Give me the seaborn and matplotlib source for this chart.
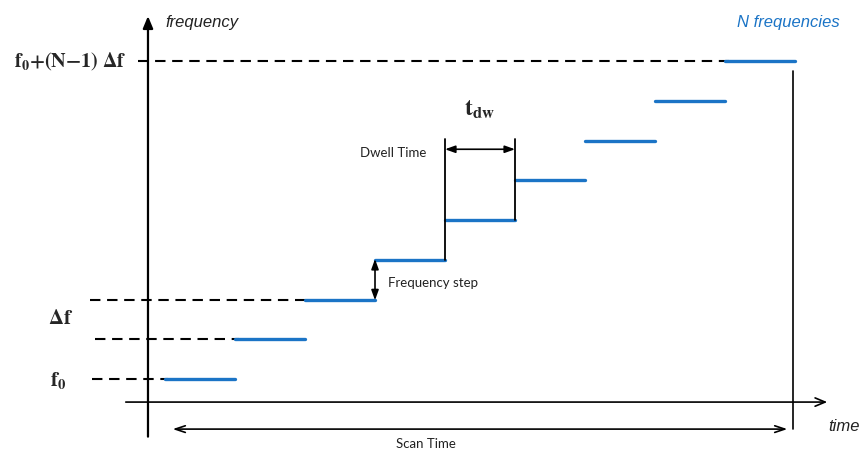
import numpy as np
import pandas as pd
import matplotlib
matplotlib.use("Agg")
import matplotlib.pyplot as plt
import seaborn as sns

# step diagram data: time in dwell-time units, frequency in delta-f units
step_index = [0, 1, 2, 3, 4, 5, 6, 7, 8]
dwell_time = 1.0
freq_level = [0, 1, 2, 3, 4, 5, 6, 7, 8]
labelled_levels = [0, 1, 2, 8]
level_labels = [r"$\mathbf{f_0}$", "", "", r"$\mathbf{f_0{+}(N{-}1)\ \Delta f}$"]
label_pos = [-1.53, None, None, -1.35]
dash_start = [-1.04, -1.0, -1.07, -0.39]

BLUE = "#1b74c6"

sns.set_theme(style="white")
plt.rcParams["mathtext.fontset"] = "stix"
plt.rcParams["font.family"] = ["Liberation Sans", "DejaVu Sans"]

fig = plt.figure(figsize=(8.63, 4.52), dpi=100)
ax = fig.add_axes([0, 0, 1, 1])

# blue frequency steps
segs = pd.DataFrame({
    "seg": np.repeat(step_index, 2),
    "t": np.ravel([[i * dwell_time, (i + 1) * dwell_time] for i in step_index]),
    "f": np.repeat(freq_level, 2),
})
sns.lineplot(data=segs, x="t", y="f", units="seg", estimator=None,
             color=BLUE, lw=2.4, ax=ax, legend=False)

# dashed level guides + labels
for lvl, lab, x0, xl in zip(labelled_levels, level_labels, dash_start, label_pos):
    ax.plot([x0, lvl * dwell_time + 0.05], [lvl, lvl], color="black", lw=1.5,
            ls=(0, (5, 3.2)), zorder=1)
    if lab:
        ax.text(xl, lvl, lab, fontsize=15 if lvl == 0 else 14.5,
                ha="center", va="center")
ax.text(-1.49, 1.56, r"$\mathbf{\Delta f}$", fontsize=15, ha="center", va="center")

n = len(step_index)
t_end = n * dwell_time
t_axis, f_axis = -0.243, -0.58

# axes
ax.annotate("", xy=(t_axis, 9.2), xytext=(t_axis, -1.52),
            arrowprops=dict(arrowstyle="-|>,head_length=0.6,head_width=0.25",
                            color="black", lw=1.6))
ax.annotate("", xy=(9.5, f_axis), xytext=(-0.6, f_axis),
            arrowprops=dict(arrowstyle="->,head_length=0.6,head_width=0.25",
                            color="black", lw=1.2))
ax.text(0.0, 9.0, "frequency", fontsize=12, style="italic", color="#222222",
        ha="left", va="center")
ax.text(9.47, -1.16, "time", fontsize=12, style="italic", color="#222222",
        ha="left", va="center")
ax.text(8.9, 9.0, "N frequencies", fontsize=12, style="italic", color=BLUE,
        ha="center", va="center")

# end of scan line + scan time arrow
ax.plot([t_end - 0.03, t_end - 0.03], [7.75, -1.27], color="black", lw=1.2)
ax.annotate("", xy=(0.07, -1.26), xytext=(t_end - 0.07, -1.26),
            arrowprops=dict(arrowstyle="<->,head_length=0.6,head_width=0.2",
                            color="black", lw=1.2))
ax.text(3.73, -1.6, "Scan Time", fontsize=9.5, family=["Lato", "DejaVu Sans"],
        ha="center", va="center", color="#222222")

# dwell time bracket
t4, t5 = 4 * dwell_time, 5 * dwell_time
ax.plot([t4, t4], [3, 6.05], color="black", lw=1.3)
ax.plot([t5, t5], [4, 6.05], color="black", lw=1.3)
ax.annotate("", xy=(t4, 5.78), xytext=(t5, 5.78),
            arrowprops=dict(arrowstyle="<|-|>,head_length=0.5,head_width=0.18",
                            color="black", lw=1.2, shrinkA=0, shrinkB=0))
ax.text(4.5, 6.8, r"$\mathbf{t_{dw}}$", fontsize=17, ha="center", va="center")
ax.text(3.74, 5.72, "Dwell Time", fontsize=9.5, family=["Lato", "DejaVu Sans"],
        ha="right", va="center", color="#222222")

# frequency step arrow
ax.annotate("", xy=(3.0, 3.02), xytext=(3.0, 1.98),
            arrowprops=dict(arrowstyle="<|-|>,head_length=0.5,head_width=0.18",
                            color="black", lw=1.2, shrinkA=0, shrinkB=0))
ax.text(3.19, 2.45, "Frequency step", fontsize=9.5, family=["Lato", "DejaVu Sans"],
        ha="left", va="center", color="#222222")

ax.set_xlim(-2.357, 9.971)
ax.set_ylim(-1.811, 9.56)
ax.axis("off")

fig.savefig("out.png", dpi=100)
